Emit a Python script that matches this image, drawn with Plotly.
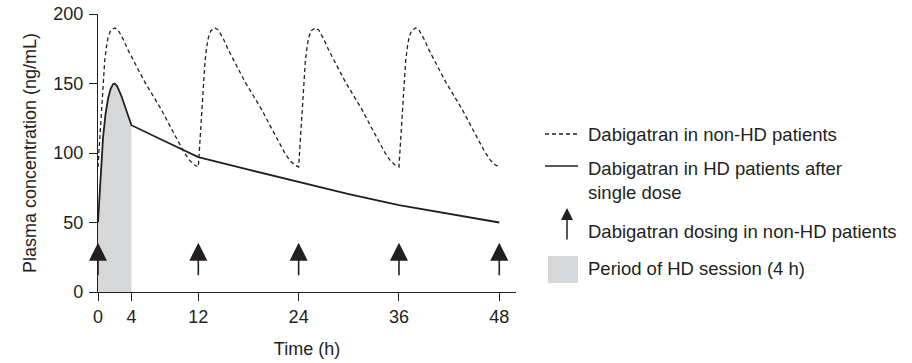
import plotly.graph_objects as go

# ---------------- data ----------------
dose_times = [0, 12, 24, 36, 48]

nonhd_time = [
    0, 0.2, 0.4, 0.6, 0.8, 1.0, 1.2, 1.5, 2.0, 2.4, 3.0, 3.6, 4.6, 5.6, 6.6, 7.6, 8.6, 9.6, 10.3, 10.9, 11.5, 12.0,
    12.2, 12.4, 12.6, 12.8, 13.0, 13.2, 13.5, 14.0, 14.4, 15.0, 15.6, 16.6, 17.6, 18.6, 19.6, 20.6, 21.6, 22.3, 22.9, 23.5, 24.0,
    24.2, 24.4, 24.6, 24.8, 25.0, 25.2, 25.5, 26.0, 26.4, 27.0, 27.6, 28.6, 29.6, 30.6, 31.6, 32.6, 33.6, 34.3, 34.9, 35.5, 36.0,
    36.2, 36.4, 36.6, 36.8, 37.0, 37.2, 37.5, 38.0, 38.4, 39.0, 39.6, 40.6, 41.6, 42.6, 43.6, 44.6, 45.6, 46.3, 46.9, 47.5, 48.0,
]
nonhd_conc = [
    90, 111, 131, 151, 166, 176, 183, 188, 190, 188.5, 182, 174, 162, 151, 141, 131, 119.5, 108, 100.5, 95, 91.5, 90,
    111, 131, 151, 166, 176, 183, 188, 190, 188.5, 182, 174, 162, 151, 141, 131, 119.5, 108, 100.5, 95, 91.5, 90,
    111, 131, 151, 166, 176, 183, 188, 190, 188.5, 182, 174, 162, 151, 141, 131, 119.5, 108, 100.5, 95, 91.5, 90,
    111, 131, 151, 166, 176, 183, 188, 190, 188.5, 182, 174, 162, 151, 141, 131, 119.5, 108, 100.5, 95, 91.5, 90,
]

hd_time = [0, 0.3, 0.6, 0.9, 1.2, 1.5, 1.8, 2.0, 2.3, 2.8, 3.4, 4.0, 8.0, 12.0, 18.0, 24.0, 30.0, 36.0, 42.0, 48.0]
hd_conc = [50, 82, 111, 128, 139, 146, 149.5, 150, 148, 141, 130, 120, 108.5, 97, 88, 79, 70.5, 62.5, 56, 50]

hd_session = [0, 4]  # hours

x_ticks = [0, 4, 12, 24, 36, 48]
y_ticks = [0, 50, 100, 150, 200]

legend_labels = [
    "Dabigatran in non-HD patients",
    "Dabigatran in HD patients after<br>single dose",
    "Dabigatran dosing in non-HD patients",
    "Period of HD session (4 h)",
]

# ---------------- style ----------------
INK = "#231f20"
GREY = "#d6d7d9"
FONT = "Liberation Sans, Arial, sans-serif"
FS = 18
OFF = 0  # page body margin removed by post_script
W, H = 912 - OFF, 363 - OFF
ML, MT = 98 - OFF, 14 - OFF
PW, PH = 418, 278
MR, MB = W - ML - PW, H - MT - PH
ARROW_TAIL, ARROW_TIP = 11, 35.5  # arrow extent in concentration units


def px(xp):
    """page pixel x -> paper"""
    return (xp - OFF - ML) / PW


def py(yp):
    """page pixel y -> paper"""
    return (MT + PH - (yp - OFF)) / PH


fig = go.Figure()

# HD session shading under the HD curve
sess_x = [t for t in hd_time if hd_session[0] <= t <= hd_session[1]]
sess_y = [c for t, c in zip(hd_time, hd_conc) if hd_session[0] <= t <= hd_session[1]]
fig.add_trace(go.Scatter(x=sess_x, y=sess_y, mode="lines", fill="tozeroy",
                         fillcolor=GREY, line=dict(width=0), hoverinfo="skip",
                         showlegend=False))

fig.add_trace(go.Scatter(x=nonhd_time, y=nonhd_conc, mode="lines",
                         line=dict(color=INK, width=1.3, dash="4px,3px"),
                         showlegend=False))
fig.add_trace(go.Scatter(x=hd_time, y=hd_conc, mode="lines",
                         line=dict(color=INK, width=1.8),
                         showlegend=False))

annotations = []
for t in dose_times:
    annotations.append(dict(x=t, y=ARROW_TIP, ax=t, ay=ARROW_TAIL, xref="x", yref="y",
                            axref="x", ayref="y", text="", showarrow=True,
                            arrowhead=2, arrowsize=2.25, arrowwidth=1.6, arrowcolor=INK))

# ---------------- manual legend ----------------
shapes = [
    dict(type="line", xref="paper", yref="paper", x0=px(545), x1=px(578), y0=py(134), y1=py(134),
         line=dict(color=INK, width=1.3, dash="4px,3px")),
    dict(type="line", xref="paper", yref="paper", x0=px(545), x1=px(578), y0=py(166), y1=py(166),
         line=dict(color=INK, width=1.5)),
    dict(type="rect", xref="paper", yref="paper", x0=px(548), x1=px(578), y0=py(283), y1=py(256),
         fillcolor=GREY, line=dict(width=0)),
]
annotations.append(dict(x=px(567), y=py(208), xref="paper", yref="paper", ax=0, ay=33,
                        text="", showarrow=True, arrowhead=2, arrowsize=1.6,
                        arrowwidth=1.5, arrowcolor=INK))
legend_y = [134, 180, 231, 268]
for lab, yy in zip(legend_labels, legend_y):
    annotations.append(dict(x=px(586), y=py(yy), xref="paper", yref="paper", text=lab,
                            showarrow=False, xanchor="left", yanchor="middle", align="left",
                            font=dict(family=FONT, size=18.5, color=INK)))

fig.update_layout(
    width=W, height=H,
    margin=dict(l=ML, r=MR, t=MT, b=MB, autoexpand=False),
    paper_bgcolor="white", plot_bgcolor="white",
    font=dict(family=FONT, size=FS, color=INK),
    shapes=shapes, annotations=annotations,
    showlegend=False,
)
fig.update_xaxes(range=[0, 50], tickvals=x_ticks, ticktext=[str(v) for v in x_ticks],
                 showgrid=False, zeroline=False, showline=True, linecolor=INK, linewidth=1.3,
                 ticks="outside", ticklen=8, tickwidth=1.3, tickcolor=INK,
                 ticklabeloverflow="allow",
                 title=dict(text="Time (h)", standoff=16, font=dict(size=FS)),
                 automargin=False, fixedrange=True)
fig.update_yaxes(range=[0, 200], tickvals=y_ticks,
                 showgrid=False, zeroline=False, showline=True, linecolor=INK, linewidth=1.3,
                 ticks="outside", ticklen=8, tickwidth=1.3, tickcolor=INK,
                 ticklabelstandoff=2, ticklabeloverflow="allow",
                 title=dict(text="Plasma concentration (ng/mL)", standoff=11, font=dict(size=FS)),
                 automargin=False, fixedrange=True)

fig.write_html("out.html", config={"displayModeBar": False},
               post_script="document.body.style.margin='0';")
